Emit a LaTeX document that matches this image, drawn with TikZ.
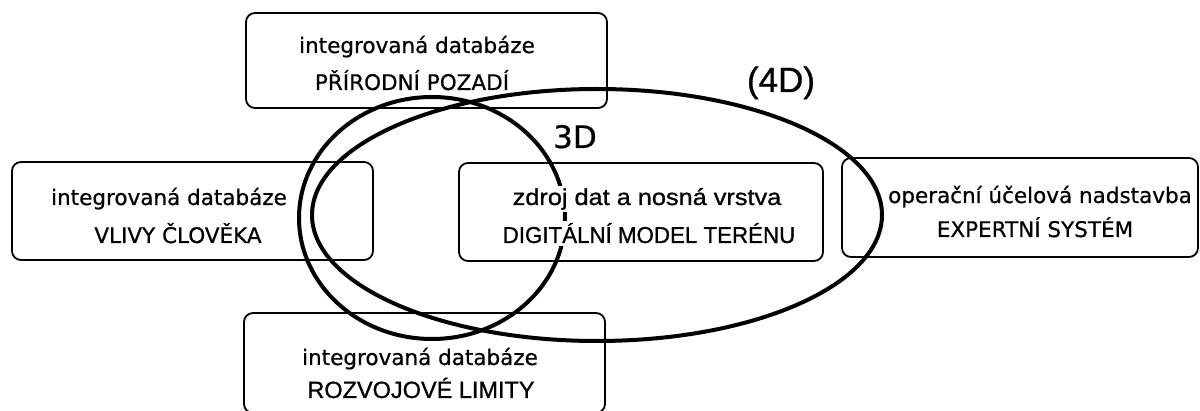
\documentclass[tikz,border=0pt]{standalone}
\usepackage{fontspec}
\setmainfont{DejaVu Sans}[FakeBold=0.6]
\newfontfamily\arialf{Liberation Sans}[FakeBold=0.9]
\begin{document}
\begin{tikzpicture}[x=1pt,y=-1pt,
  box/.style={draw, line width=1.8pt, rounded corners=9pt, inner sep=0pt},
  txt/.style={anchor=base, inner sep=0pt, font=\fontsize{21.5}{24}\selectfont},
  atxt/.style={anchor=base, inner sep=0pt, font=\arialf\fontsize{23.5}{26}\selectfont},
  ring/.style={draw, line width=4pt}]
\useasboundingbox (0,0) rectangle (1200,411);

% frames of the five blocks
\node[box, minimum width=361pt, minimum height=95pt] (top) at (426.5,60.5) {};
\node[box, minimum width=361pt, minimum height=98pt] (left) at (192.5,211) {};
\node[box, minimum width=364pt, minimum height=98pt] (mid) at (641,212) {};
\node[box, minimum width=356pt, minimum height=99pt] (right) at (1020,207.5) {};
\node[box, minimum width=361pt, minimum height=100pt] (bottom) at (424.5,363) {};

% 3D and 4D loops
\draw[ring] (432,218) ellipse [x radius=133, y radius=121];
\draw[ring] (597,215) ellipse [x radius=285, y radius=126];

% texts
\node[txt] (top1) at (417,53) {integrovaná databáze};
\node[txt] (top2) at (412,90) {PŘÍRODNÍ POZADÍ};
\node[txt] (left1) at (169,205) {integrovaná databáze};
\node[txt] (left2) at (178,243) {VLIVY ČLOVĚKA};
\node[atxt, fill=white, inner sep=2.5pt, font=\arialf\addfontfeatures{FakeStretch=1.1}\fontsize{23}{26}\selectfont] (mid1) at (647,205) {zdroj dat a nosná vrstva};
\node[atxt, fill=white, inner sep=2.5pt, font=\arialf\addfontfeatures{FakeStretch=0.97}\fontsize{23}{26}\selectfont] (mid2) at (649,243) {DIGITÁLNÍ MODEL TERÉNU};
\node[txt] (right1) at (1040,203) {operační účelová nadstavba};
\node[txt] (right2) at (1035,237) {EXPERTNÍ SYSTÉM};
\node[txt] (bottom1) at (420,365) {integrovaná databáze};
\node[atxt] (bottom2) at (421,398) {ROZVOJOVÉ LIMITY};
\node[txt, font=\fontsize{31}{34}\selectfont] (d3) at (575,148) {3D};
\node[atxt, font=\arialf\fontsize{35}{38}\selectfont] (d4) at (781,92) {(4D)};
\end{tikzpicture}
\end{document}
